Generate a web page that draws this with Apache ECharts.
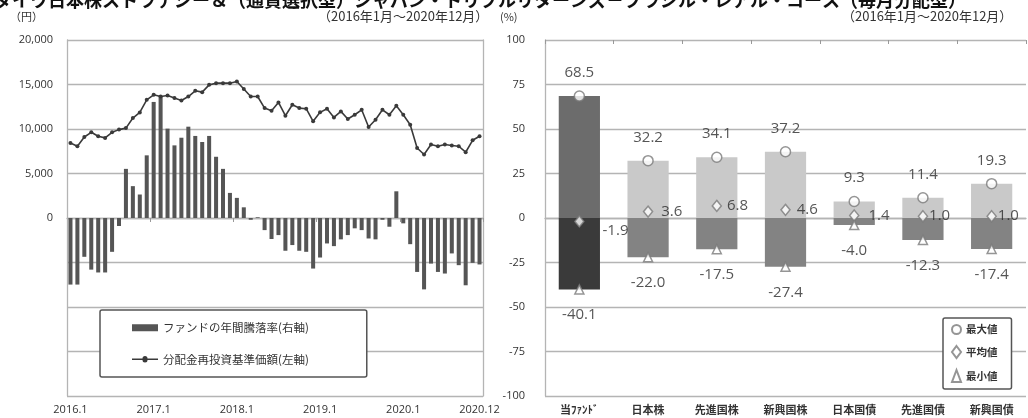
<!DOCTYPE html>
<html><head><meta charset="utf-8">
<script src="https://cdn.jsdelivr.net/npm/echarts@6/dist/echarts.min.js"></script>
<style>html,body{margin:0;padding:0;background:#fff}#c{width:1028px;height:418px}</style>
</head><body><div id="c"></div>
<script>
// ---- data ----
const years = [2016, 2017, 2018, 2019, 2020];
const monthLabels = [];
years.forEach(y => { for (let m = 1; m <= 12; m++) monthLabels.push(y + '.' + m); });
const navValues = [8430,8060,9100,9630,9180,9000,9630,9930,10100,11230,11860,13280,13840,13650,13770,13470,13200,13650,14290,14140,14960,15150,15150,15150,15330,14500,13650,13650,12350,12050,12980,11490,12720,12350,12280,10860,11870,12280,11300,11980,11120,11600,12160,10220,11040,12160,11600,12610,11600,10480,7870,7130,8250,8060,8250,8140,8060,7390,8730,9180];
const annualReturn = [-37.4,-37.4,-21.8,-29,-30.6,-30.6,-19,-4.5,27.6,17.9,13.2,35.2,65.2,68.5,50.2,40.8,45.1,51.3,46.1,42.7,46.1,34.4,27.6,14.1,11.3,6.0,-1.0,0.4,-6.8,-11.8,-9.6,-18.4,-15.2,-18.4,-19,-28.4,-22.2,-14.3,-15.8,-12,-9.6,-5.8,-6.8,-11.5,-12,-1,-4.9,15.0,-3,-14.7,-30.3,-40.1,-25.6,-30.3,-31.2,-19.9,-26.5,-37.8,-25.2,-26.1];
const assetCats = ['当ﾌｧﾝﾄﾞ','日本株','先進国株','新興国株','日本国債','先進国債','新興国債'];
const maxVals = [68.5,32.2,34.1,37.2,9.3,11.4,19.3];
const meanVals = [-1.9,3.6,6.8,4.6,1.4,1.0,1.0];
const minVals = [-40.1,-22.0,-17.5,-27.4,-4.0,-12.3,-17.4];
const leftTicks = [20000,15000,10000,5000,0];

// ---- chart ----
const FONT = "'Open Sans','Noto Sans CJK JP',sans-serif";
const GRID = '#b4b4b4';
const chart = echarts.init(document.getElementById('c'), null, {renderer:'canvas'});
const labelIdx = i => i % 12 === 0 || i === monthLabels.length - 1;
const posColor = i => i === 0 ? '#6c6c6c' : '#c9c9c9';
const negColor = i => i === 0 ? '#3a3a3a' : '#838383';
const lbl = {color:'#2a2a2a', fontSize:15, fontFamily:FONT};
const mk = {color:'#fff', borderColor:'#7a7a7a', borderWidth:1.5};
const meanLabelDist = [18, 8, 5, 6, 9, 1, 1];
const meanLabelDy = [9, 0, 0, 0, 0, 0, 0];

chart.setOption({
  animation:false,
  textStyle:{fontFamily:FONT},
  graphic:[
    {type:'text', left:-6, top:-9, style:{text:'ダイワ日本株ストラテジー＆（通貨選択型）ジャパン・トリプルリターンズ－ブラジル・レアル・コース（毎月分配型）', font:'bold 18px "Noto Sans CJK JP"', fill:'#111'}},
    {type:'text', left:10, top:11, style:{text:'（円）', font:'11px "Noto Sans CJK JP"', fill:'#333'}},
    {type:'text', left:318, top:10, style:{text:'（2016年1月～2020年12月）', font:'13px "Noto Sans CJK JP"', fill:'#333'}},
    {type:'text', left:500, top:11, style:{text:'(%)', font:'11px "Noto Sans CJK JP"', fill:'#333'}},
    {type:'text', left:842, top:10, style:{text:'（2016年1月～2020年12月）', font:'13px "Noto Sans CJK JP"', fill:'#333'}}
  ],
  legend:[
    {left:100, top:310, orient:'vertical', itemGap:20, itemWidth:26, itemHeight:14,
     padding:[12,58,12,32], backgroundColor:'#fff', borderColor:'#555', borderWidth:1.5, borderRadius:2,
     textStyle:{fontSize:11.5, color:'#333', fontFamily:"'Noto Sans CJK JP'"},
     data:[{name:'ファンドの年間騰落率(右軸)', icon:'path://M0,0L26,0L26,7L0,7Z'},
           {name:'分配金再投資基準価額(左軸)', icon:'path://M0,2.75L10.5,2.75A2.5,2.5 0 0 1 15.5,2.75L26,2.75L26,4.25L15.5,4.25A2.5,2.5 0 0 1 10.5,4.25L0,4.25Z'}]},
    {left:943, top:318, orient:'vertical', itemGap:10, itemWidth:9, itemHeight:12,
     padding:[6,14,6,8], backgroundColor:'#fff', borderColor:'#555', borderWidth:1.5, borderRadius:2,
     textStyle:{fontSize:10.5, fontWeight:'bold', color:'#333', fontFamily:"'Noto Sans CJK JP'"},
     data:['最大値','平均値','最小値']}
  ],
  grid:[
    {left:67, right:545, top:40, bottom:22},
    {left:545, right:2, top:40, bottom:22}
  ],
  xAxis:[
    {type:'category', gridIndex:0, data:monthLabels, boundaryGap:true,
     axisLine:{show:true, lineStyle:{color:GRID, width:1.3}}, axisTick:{show:false},
     axisLabel:{interval:(i)=>labelIdx(i), color:'#333', fontSize:11, margin:8}},
    {type:'category', gridIndex:0, position:'top', data:monthLabels, boundaryGap:true,
     axisLine:{show:false, onZero:true, onZeroAxisIndex:1}, axisLabel:{show:false},
     axisTick:{show:true, inside:true, length:4, interval:(i)=>i%12===0 && i>0, lineStyle:{color:'#999'}}},
    {type:'category', gridIndex:1, data:assetCats,
     axisLine:{show:true, lineStyle:{color:GRID, width:1.3}}, axisTick:{show:false},
     axisLabel:{color:'#333', fontSize:11, fontWeight:'bold', margin:8, fontFamily:"'Noto Sans CJK JP'"}},
    {type:'category', gridIndex:1, position:'top', data:assetCats,
     axisLine:{show:false, onZero:true}, axisLabel:{show:false},
     axisTick:{show:true, inside:true, length:4, lineStyle:{color:'#999'}}}
  ],
  yAxis:[
    {type:'value', gridIndex:0, min:-20000, max:20000, interval:5000,
     axisLine:{show:true, lineStyle:{color:GRID, width:1.3}}, axisTick:{show:false},
     splitLine:{lineStyle:{color:GRID, width:1.3}},
     axisLabel:{color:'#333', fontSize:11, margin:14, formatter:v => leftTicks.includes(v) ? v.toLocaleString('en-US') : ''}},
    {type:'value', gridIndex:0, position:'right', min:-100, max:100, interval:25,
     axisLine:{show:true, lineStyle:{color:GRID, width:1.3}}, axisTick:{show:false},
     splitLine:{show:false}, axisLabel:{show:false}},
    {type:'value', gridIndex:1, min:-100, max:100, interval:25,
     axisLine:{show:true, lineStyle:{color:GRID, width:1.3}}, axisTick:{show:false},
     splitLine:{lineStyle:{color:GRID, width:1.3}},
     axisLabel:{color:'#333', fontSize:11, margin:20}}
  ],
  series:[
    {name:'ファンドの年間騰落率(右軸)', type:'bar', xAxisIndex:0, yAxisIndex:1, data:annualReturn,
     barWidth:'58%', itemStyle:{color:'#555'}},
    {name:'分配金再投資基準価額(左軸)', type:'line', xAxisIndex:0, yAxisIndex:0, data:navValues,
     symbol:'circle', symbolSize:4, showSymbol:true, lineStyle:{color:'#3a3a3a', width:1.6}, itemStyle:{color:'#3a3a3a'}},
    {name:'pos', type:'bar', xAxisIndex:2, yAxisIndex:2, barWidth:'60%', barGap:'-100%',
     data:maxVals.map((v,i)=>({value:v, itemStyle:{color:posColor(i)}}))},
    {name:'neg', type:'bar', xAxisIndex:2, yAxisIndex:2, barWidth:'60%', barGap:'-100%',
     data:minVals.map((v,i)=>({value:v, itemStyle:{color:negColor(i)}}))},
    {name:'最大値', type:'scatter', xAxisIndex:2, yAxisIndex:2, data:maxVals, symbol:'circle', symbolSize:10,
     itemStyle:mk, label:{show:true, position:'top', distance:10, formatter:p=>p.value.toFixed(1), ...lbl}},
    {name:'平均値', type:'scatter', xAxisIndex:2, yAxisIndex:2, symbol:'diamond', symbolSize:[9,11],
     data:meanVals.map((v,i)=>({value:v, label:{distance:meanLabelDist[i], offset:[0, meanLabelDy[i]]}})),
     itemStyle:mk, label:{show:true, position:'right', formatter:p=>p.value.toFixed(1), ...lbl}},
    {name:'最小値', type:'scatter', xAxisIndex:2, yAxisIndex:2, data:minVals, symbol:'triangle', symbolSize:9,
     itemStyle:mk, label:{show:true, position:'bottom', distance:13, formatter:p=>p.value.toFixed(1), ...lbl}}
  ]
});
</script></body></html>
